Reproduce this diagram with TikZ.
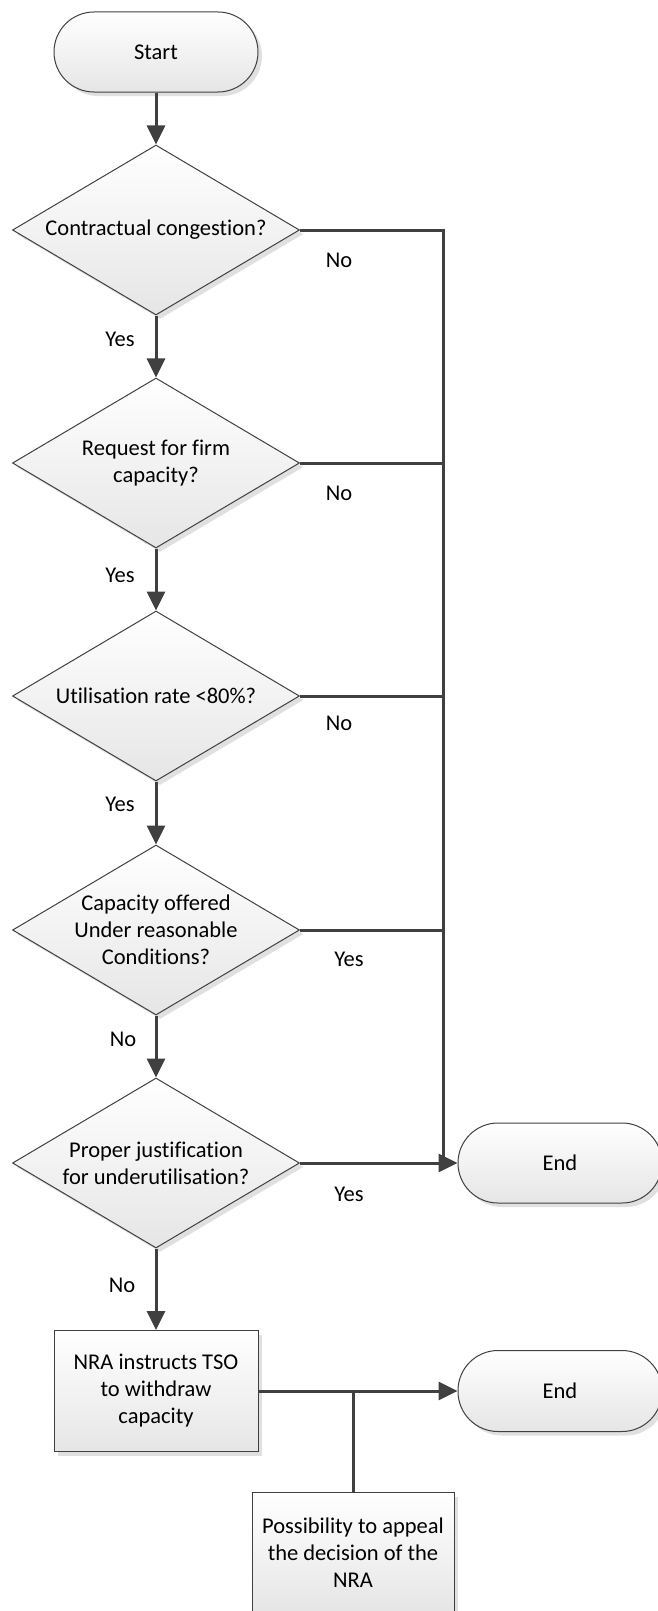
\documentclass[tikz,border=0pt]{standalone}
\usepackage{fontspec}
\setmainfont{Carlito}[Ligatures=NoCommon]
\usetikzlibrary{shapes.geometric,arrows.meta,shadows}
\definecolor{ln}{HTML}{404040}

\begin{document}
\begin{tikzpicture}[x=1pt, y=-1pt, font=\fontsize{22.5}{27}\selectfont,
    box/.style={draw=ln, line width=1pt, top color=white, bottom color=black!10,
      drop shadow={shadow xshift=4pt, shadow yshift=-4pt, fill=black!12, opacity=1}},
    term/.style={box, rectangle, rounded corners=40pt, minimum width=204pt, minimum height=80pt},
    dec/.style={box, diamond, aspect=1.69, inner sep=-4pt, minimum width=287pt, minimum height=170pt, align=center},
    proc/.style={box, rectangle, minimum width=204pt, minimum height=121pt, align=center},
    line/.style={ln, line width=3pt},
    arr/.style={line, -{Triangle[length=19pt, width=18pt]}},
    lbl/.style={inner sep=0pt}]
  \useasboundingbox (0,0) rectangle (657,1611);
  \node[term] (start) at (156,52) {Start};
  \node[dec] (d1) at (156,230) {Contractual congestion?};
  \node[dec] (d2) at (156,463) {Request for firm\\capacity?};
  \node[dec] (d3) at (156,696) {Utilisation rate <80\%?};
  \node[dec] (d4) at (156,930) {Capacity offered\\Under reasonable\\Conditions?};
  \node[dec] (d5) at (156,1163) {Proper justification\\for underutilisation?};
  \node[proc] (nra) at (156,1391) {NRA instructs TSO\\to withdraw\\capacity};
  \node[term] (end1) at (560,1163) {End};
  \node[term, minimum height=81pt] (end2) at (560,1391) {End};
  \node[proc, minimum width=202pt] (appeal) at (353,1553) {Possibility to appeal\\the decision of the\\NRA};
  \coordinate (k) at (443,1163);

  \draw[arr] (start) -- (d1);
  \draw[arr] (d1) -- (d2);
  \draw[arr] (d2) -- (d3);
  \draw[arr] (d3) -- (d4);
  \draw[arr] (d4) -- (d5);
  \draw[arr] (d5) -- (nra);
  \draw[line] (d1.east) -| (k);
  \foreach \d in {d2,d3,d4} \draw[line] (\d.east) -- (\d.east -| k);
  \draw[arr] (d5) -- (end1);
  \draw[arr] (nra) -- (end2);
  \draw[line] (appeal) -- (appeal |- nra);

  \node[lbl] (y1) at (120,339) {Yes};
  \node[lbl] (y2) at (120,575) {Yes};
  \node[lbl] (y3) at (120,804) {Yes};
  \node[lbl] (n4) at (123,1039) {No};
  \node[lbl] (n5) at (122,1285) {No};
  \node[lbl] (n1) at (339,260) {No};
  \node[lbl] (n2) at (339,493) {No};
  \node[lbl] (n3) at (339,723) {No};
  \node[lbl] (y4) at (349,959) {Yes};
  \node[lbl] (y5) at (349,1194) {Yes};
\end{tikzpicture}
\end{document}
